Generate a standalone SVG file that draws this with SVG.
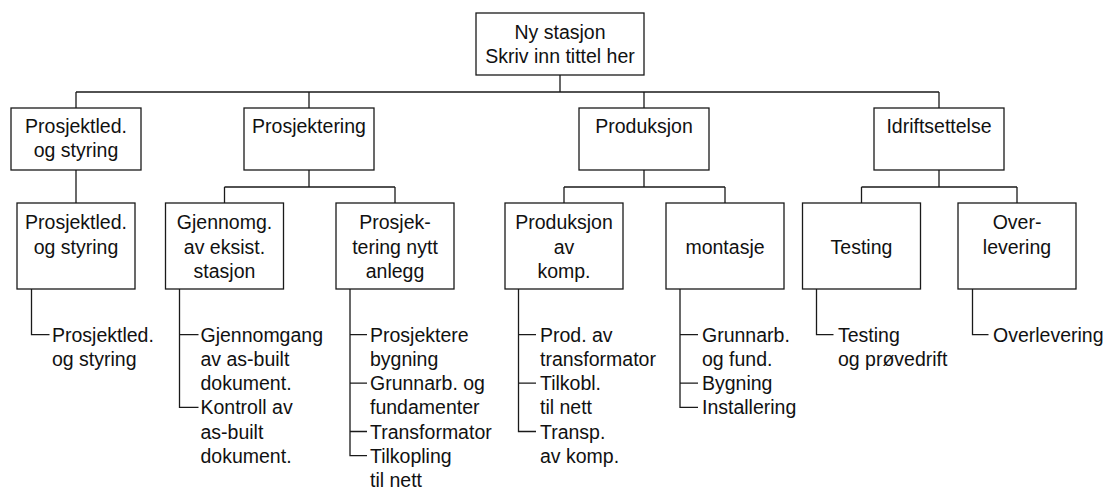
<svg xmlns="http://www.w3.org/2000/svg" width="1106" height="489" viewBox="0 0 1106 489">
<style>
.box{fill:#fff;stroke:#1a1a1a;stroke-width:1.3}
.ln{fill:none;stroke:#1a1a1a;stroke-width:1.3}
text{font-family:"Liberation Sans",Arial,sans-serif;font-size:19.5px;fill:#111}
.c{text-anchor:middle}
</style>
<rect width="1106" height="489" fill="#fff"/>
<g id="connectors" class="ln">
<path d="M560 75V92M76 92H939M76 92V108M309 92V108M644 92V108M939 92V108"/>
<path d="M76 170V203"/>
<path d="M309 170V187M224.5 187H395M224.5 187V203M395 187V203"/>
<path d="M644 170V187M564 187H725M564 187V203M725 187V203"/>
<path d="M939 170V187M861.5 187H1017M861.5 187V203M1017 187V203"/>
<path d="M31.5 289V334.7H49.5"/>
<path d="M179.5 289V407.3H198.5M179.5 334.7H198.5"/>
<path d="M350 289V455.7H367M350 334.7H367M350 383.1H367M350 431.5H367"/>
<path d="M518.5 289V431.5H536M518.5 334.7H536M518.5 383.1H536"/>
<path d="M680 289V407.3H698M680 334.7H698M680 383.1H698"/>
<path d="M816.5 289V334.7H833.5"/>
<path d="M972.5 289V334.7H988.5"/>
</g>
<g id="root"><rect class="box" x="476" y="13" width="168" height="62"/>
<text class="c" x="560" y="38.5">Ny stasjon</text><text class="c" x="560" y="62.7">Skriv inn tittel her</text></g>
<g id="n-prosjektled"><rect class="box" x="11" y="108" width="130" height="62"/>
<text class="c" x="76" y="132.7">Prosjektled.</text><text class="c" x="76" y="156.9">og styring</text></g>
<g id="n-prosjektering"><rect class="box" x="244" y="108" width="130" height="62"/>
<text class="c" x="309" y="132.7">Prosjektering</text></g>
<g id="n-produksjon"><rect class="box" x="579" y="108" width="130" height="62"/>
<text class="c" x="644" y="132.7">Produksjon</text></g>
<g id="n-idrift"><rect class="box" x="874" y="108" width="130" height="62"/>
<text class="c" x="939" y="132.7">Idriftsettelse</text></g>
<g id="n-pl2"><rect class="box" x="17" y="203" width="118" height="86"/>
<text class="c" x="76" y="229.3">Prosjektled.</text><text class="c" x="76" y="253.5">og styring</text></g>
<g id="n-gjennomg"><rect class="box" x="165.5" y="203" width="118" height="86"/>
<text class="c" x="224.5" y="229.3">Gjennomg.</text><text class="c" x="224.5" y="253.5">av eksist.</text><text class="c" x="224.5" y="277.7">stasjon</text></g>
<g id="n-prosjek"><rect class="box" x="336" y="203" width="118" height="86"/>
<text class="c" x="395" y="229.3">Prosjek-</text><text class="c" x="395" y="253.5">tering nytt</text><text class="c" x="395" y="277.7">anlegg</text></g>
<g id="n-prodkomp"><rect class="box" x="505" y="203" width="118" height="86"/>
<text class="c" x="564" y="229.3">Produksjon</text><text class="c" x="564" y="253.5">av</text><text class="c" x="564" y="277.7">komp.</text></g>
<g id="n-montasje"><rect class="box" x="666" y="203" width="118" height="86"/>
<text class="c" x="725" y="253.5">montasje</text></g>
<g id="n-testing"><rect class="box" x="802.5" y="203" width="118" height="86"/>
<text class="c" x="861.5" y="253.5">Testing</text></g>
<g id="n-overlevering"><rect class="box" x="958" y="203" width="118" height="86"/>
<text class="c" x="1017" y="229.3">Over-</text><text class="c" x="1017" y="253.5">levering</text></g>
<g id="leaf-pl"><text x="52" y="341.7">Prosjektled.</text><text x="52" y="365.9">og styring</text></g>
<g id="leaf-gjennomg"><text x="200.5" y="341.7">Gjennomgang</text><text x="200.5" y="365.9">av as-built</text><text x="200.5" y="390.1">dokument.</text><text x="200.5" y="414.3">Kontroll av</text><text x="200.5" y="438.5">as-built</text><text x="200.5" y="462.7">dokument.</text></g>
<g id="leaf-prosjek"><text x="370" y="341.7">Prosjektere</text><text x="370" y="365.9">bygning</text><text x="370" y="390.1">Grunnarb. og</text><text x="370" y="414.3">fundamenter</text><text x="370" y="438.5">Transformator</text><text x="370" y="462.7">Tilkopling</text><text x="370" y="486.9">til nett</text></g>
<g id="leaf-prodkomp"><text x="540" y="341.7">Prod. av</text><text x="540" y="365.9">transformator</text><text x="540" y="390.1">Tilkobl.</text><text x="540" y="414.3">til nett</text><text x="540" y="438.5">Transp.</text><text x="540" y="462.7">av komp.</text></g>
<g id="leaf-montasje"><text x="702" y="341.7">Grunnarb.</text><text x="702" y="365.9">og fund.</text><text x="702" y="390.1">Bygning</text><text x="702" y="414.3">Installering</text></g>
<g id="leaf-testing"><text x="838" y="341.7">Testing</text><text x="838" y="365.9">og prøvedrift</text></g>
<g id="leaf-overlevering"><text x="993" y="341.7">Overlevering</text></g>
</svg>
